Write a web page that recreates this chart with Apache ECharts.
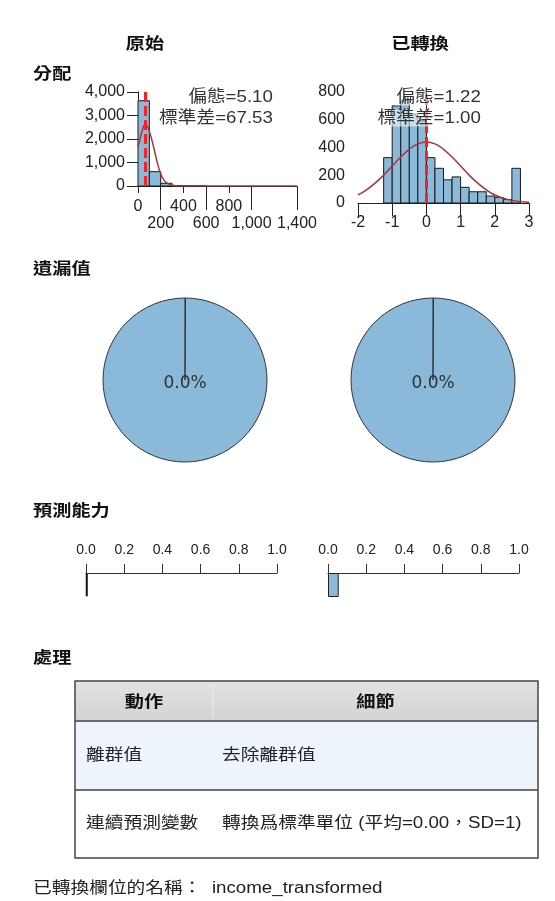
<!DOCTYPE html>
<html>
<head>
<meta charset="utf-8">
<script src="https://cdn.jsdelivr.net/npm/echarts@6/dist/echarts.min.js"></script>
<style>
html, body { margin: 0; padding: 0; background: #fff; }
#main { width: 555px; height: 901px; }
</style>
</head>
<body>
<div id="main"></div>
<script>
// 原始 (income) 分配
var origBinStart = [0, 100, 200, 300, 400, 500];
var origBinWidth = 100;
var origCounts = [3630, 610, 115, 15, 6, 3];
var origCurveX = [0, 20, 40, 60, 80, 100, 125, 150, 175, 200, 225, 250, 300, 350, 400, 1400];
var origCurveY = [1650, 2050, 2400, 2600, 2560, 2320, 1900, 1400, 900, 520, 280, 140, 30, 5, 0, 0];
var origMean = 60;
var origStats = ['偏態=5.10', '標準差=67.53'];

// 已轉換 分配
var transBinStart = [-1.25, -1, -0.75, -0.5, -0.25, 0, 0.25, 0.5, 0.75, 1, 1.25, 1.5, 1.75, 2, 2.25, 2.5];
var transBinWidth = 0.25;
var transCounts = [327, 700, 740, 640, 590, 327, 250, 167, 188, 113, 81, 81, 50, 40, 25, 250];
var transCurveX = [-2, -1.75, -1.5, -1.25, -1, -0.75, -0.5, -0.25, 0, 0.25, 0.5, 0.75, 1, 1.25, 1.5, 1.75, 2, 2.25, 2.5, 2.75, 3];
var transCurveY = [58, 95, 143, 201, 266, 331, 387, 426, 439, 426, 387, 331, 266, 201, 143, 95, 58, 35, 19, 10, 5];
var transMean = 0;
var transStats = ['偏態=1.22', '標準差=1.00'];

// 遺漏值 (%)
var missingPct = [0.0, 0.0];
// 預測能力
var predictPower = [0.008, 0.056];

// 處理 table
var tableHeader = ['動作', '細節'];
var tableRows = [
	['離群值', '去除離群值'],
	['連續預測變數', '轉換爲標準單位 (平均=0.00，SD=1)']
];
var fieldNameText = '已轉換欄位的名稱：  income_transformed';

var FONT = "'Liberation Sans', 'Noto Sans CJK TC', sans-serif";
var CJK = "'Noto Sans CJK TC', 'Liberation Sans', sans-serif";
var BAR_FILL = '#8bb9d9';
var TEXT = '#222';
var STRETCH = 1.17; // the source renders text a little wide

function toHist(starts, width, counts) {
	return starts.map(function(s, i) {
		return [s, s + width, counts[i]];
	});
}
function toPairs(xs, ys) {
	return xs.map(function(x, i) {
		return [x, ys[i]];
	});
}

function histItem(params, api) {
	var p0 = api.coord([api.value(0), api.value(2)]);
	var p1 = api.coord([api.value(1), 0]);
	return {
		type : 'rect',
		shape : {
			x : p0[0],
			y : p0[1],
			width : p1[0] - p0[0],
			height : p1[1] - p0[1]
		},
		style : {
			fill : BAR_FILL,
			stroke : '#1a1a1a',
			lineWidth : 1
		}
	};
}

var myChart = echarts.init(document.getElementById('main'));

var axisLine = {
	lineStyle : {
		color : '#222',
		width : 1
	}
};

function valueYAxis(gridIndex, max, interval) {
	return {
		type : 'value',
		gridIndex : gridIndex,
		min : 0,
		max : max,
		interval : interval,
		axisLine : {
			show : true,
			lineStyle : axisLine.lineStyle
		},
		axisTick : {
			show : true,
			length : 11,
			lineStyle : axisLine.lineStyle
		},
		axisLabel : {
			margin : 13,
			fontSize : 16,
			fontFamily : FONT,
			color : TEXT
		},
		splitLine : {
			show : false
		}
	};
}

function predictXAxis(gridIndex) {
	return {
		type : 'value',
		gridIndex : gridIndex,
		position : 'top',
		min : 0,
		max : 1,
		interval : 0.2,
		axisLine : {
			show : true,
			lineStyle : {
				color : '#333',
				width : 1
			}
		},
		axisTick : {
			show : true,
			length : 9,
			lineStyle : {
				color : '#333'
			}
		},
		axisLabel : {
			margin : 16,
			fontSize : 14,
			fontFamily : FONT,
			color : TEXT,
			showMinLabel : true,
			showMaxLabel : true,
			formatter : function(v) {
				return v.toFixed(1);
			}
		},
		splitLine : {
			show : false
		}
	};
}

function meanLine(xAxisIndex, yAxisIndex, xs, ys, mean) {
	return {
		type : 'line',
		xAxisIndex : xAxisIndex,
		yAxisIndex : yAxisIndex,
		data : toPairs(xs, ys),
		smooth : true,
		showSymbol : false,
		silent : true,
		z : 4,
		lineStyle : {
			color : '#a8353a',
			width : 1.5
		},
		markLine : {
			symbol : 'none',
			silent : true,
			label : {
				show : false
			},
			lineStyle : {
				color : '#ff1f1f',
				type : [10, 4],
				width : 3
			},
			data : [ {
				xAxis : mean
			} ]
		}
	};
}

function pieSeries(cx, pct) {
	return {
		type : 'pie',
		center : [cx, 380],
		radius : 82,
		startAngle : 90,
		clockwise : true,
		minAngle : 0.3,
		silent : true,
		animation : false,
		itemStyle : {
			color : BAR_FILL,
			borderColor : '#333',
			borderWidth : 1
		},
		label : {
			show : false
		},
		labelLine : {
			show : false
		},
		data : [ {
			name : '遺漏',
			value : pct,
			label : {
				show : true,
				position : 'center',
				formatter : '{a|' + pct.toFixed(1) + '%}',
				rich : {
					a : {
						fontFamily : "'DejaVu Sans', sans-serif",
						fontSize : 17,
						color : '#333',
						padding : [8, 0, 0, 0]
					}
				}
			}
		}, {
			name : '有效',
			value : 100 - pct
		} ]
	};
}

function titleText(text, x, y, align) {
	return {
		type : 'text',
		x : x,
		y : y,
		z : 10,
		scaleX : 1.2,
		style : {
			text : text,
			font : 'bold 16px ' + CJK,
			fill : '#111',
			align : align || 'left',
			verticalAlign : 'middle'
		}
	};
}

function statText(text, x, y) {
	return {
		type : 'text',
		x : x,
		y : y,
		z : 20,
		scaleX : 1.1,
		style : {
			text : text,
			font : '17px ' + FONT,
			fill : '#333',
			align : 'right',
			verticalAlign : 'middle',
			backgroundColor : 'rgba(255,255,255,0.55)',
			padding : [0, 1, 0, 1]
		}
	};
}

function plainText(text, x, y) {
	return {
		type : 'text',
		x : x,
		y : y,
		scaleX : STRETCH,
		style : {
			text : text,
			font : '16px ' + FONT,
			fill : '#222',
			verticalAlign : 'middle'
		}
	};
}

// 表格
var tblLeft = 75, tblRight = 538, colX = 213;
var rowY = [681, 721, 790, 858];
var tableGraphics = [ {
	type : 'rect',
	shape : {
		x : tblLeft,
		y : rowY[0],
		width : tblRight - tblLeft,
		height : rowY[1] - rowY[0]
	},
	style : {
		fill : new echarts.graphic.LinearGradient(0, 0, 0, 1, [ {
			offset : 0,
			color : '#e2e2e2'
		}, {
			offset : 1,
			color : '#d3d3d3'
		} ])
	}
}, {
	type : 'rect',
	shape : {
		x : tblLeft,
		y : rowY[1],
		width : tblRight - tblLeft,
		height : rowY[2] - rowY[1]
	},
	style : {
		fill : '#eef4fc'
	}
}, {
	type : 'line',
	shape : {
		x1 : colX,
		y1 : rowY[0],
		x2 : colX,
		y2 : rowY[1]
	},
	style : {
		stroke : '#e8e8e8',
		lineWidth : 1
	}
}, {
	type : 'line',
	shape : {
		x1 : tblLeft,
		y1 : rowY[1],
		x2 : tblRight,
		y2 : rowY[1]
	},
	style : {
		stroke : '#444',
		lineWidth : 1.5
	}
}, {
	type : 'line',
	shape : {
		x1 : tblLeft,
		y1 : rowY[2],
		x2 : tblRight,
		y2 : rowY[2]
	},
	style : {
		stroke : '#444',
		lineWidth : 1.5
	}
}, {
	type : 'rect',
	shape : {
		x : tblLeft,
		y : rowY[0],
		width : tblRight - tblLeft,
		height : rowY[3] - rowY[0]
	},
	style : {
		fill : 'none',
		stroke : '#444',
		lineWidth : 1.5
	}
}, titleText(tableHeader[0], (tblLeft + colX) / 2, (rowY[0] + rowY[1]) / 2, 'center'),
   titleText(tableHeader[1], (colX + tblRight) / 2, (rowY[0] + rowY[1]) / 2, 'center') ];

tableRows.forEach(function(row, i) {
	var cy = (rowY[i + 1] + rowY[i + 2]) / 2;
	tableGraphics.push(plainText(row[0], 86, cy));
	tableGraphics.push(plainText(row[1], 222, cy));
});

var option = {
	backgroundColor : '#fff',
	animation : false,
	grid : [ {
		left : 138,
		top : 92,
		width : 159,
		height : 94
	}, {
		left : 358,
		top : 92,
		width : 171,
		height : 111
	}, {
		left : 86,
		top : 573,
		width : 191,
		height : 24
	}, {
		left : 328,
		top : 573,
		width : 191,
		height : 24
	} ],
	xAxis : [ {
		type : 'value',
		gridIndex : 0,
		position : 'bottom',
		min : 0,
		max : 1400,
		interval : 200,
		axisLine : axisLine,
		axisTick : {
			length : 7,
			lineStyle : axisLine.lineStyle
		},
		axisLabel : {
			margin : 12,
			fontSize : 16,
			lineHeight : 17,
			fontFamily : FONT,
			color : TEXT,
			interval : 0,
			showMinLabel : true,
			showMaxLabel : true,
			formatter : function(v) {
				var s = echarts.format.addCommas(v);
				return (v / 200) % 2 === 1 ? '\n' + s : s;
			}
		},
		splitLine : {
			show : false
		}
	}, {
		type : 'value',
		gridIndex : 1,
		min : -2,
		max : 3,
		interval : 1,
		axisLine : axisLine,
		axisTick : {
			length : 13,
			lineStyle : axisLine.lineStyle
		},
		axisLabel : {
			margin : 12,
			fontSize : 16,
			fontFamily : FONT,
			color : TEXT,
			showMinLabel : true,
			showMaxLabel : true
		},
		splitLine : {
			show : false
		}
	}, predictXAxis(2), predictXAxis(3), {
		// long ticks reaching the second label row
		type : 'value',
		gridIndex : 0,
		position : 'bottom',
		offset : 0,
		min : 0,
		max : 1400,
		axisLine : {
			show : false
		},
		axisTick : {
			show : true,
			length : 24,
			customValues : [200, 600, 1000, 1400],
			lineStyle : axisLine.lineStyle
		},
		axisLabel : {
			show : false
		},
		splitLine : {
			show : false
		}
	} ],
	yAxis : [ valueYAxis(0, 4000, 1000), valueYAxis(1, 800, 200), {
		type : 'category',
		gridIndex : 2,
		data : ['預測能力'],
		show : false
	}, {
		type : 'category',
		gridIndex : 3,
		data : ['預測能力'],
		show : false
	} ],
	series : [ {
		type : 'custom',
		xAxisIndex : 0,
		yAxisIndex : 0,
		renderItem : histItem,
		encode : {
			x : [0, 1],
			y : 2
		},
		data : toHist(origBinStart, origBinWidth, origCounts),
		z : 2
	}, {
		type : 'custom',
		xAxisIndex : 1,
		yAxisIndex : 1,
		renderItem : histItem,
		encode : {
			x : [0, 1],
			y : 2
		},
		data : toHist(transBinStart, transBinWidth, transCounts),
		z : 2
	},
	meanLine(0, 0, origCurveX, origCurveY, origMean),
	meanLine(1, 1, transCurveX, transCurveY, transMean),
	pieSeries(185, missingPct[0]),
	pieSeries(433, missingPct[1]),
	{
		type : 'bar',
		xAxisIndex : 2,
		yAxisIndex : 2,
		barWidth : 24,
		data : [predictPower[0]],
		itemStyle : {
			color : '#111',
			borderColor : '#111',
			borderWidth : 2
		}
	}, {
		type : 'bar',
		xAxisIndex : 3,
		yAxisIndex : 3,
		barWidth : 24,
		data : [predictPower[1]],
		itemStyle : {
			color : BAR_FILL,
			borderColor : '#222',
			borderWidth : 1
		}
	} ],
	graphic : [
		titleText('原始', 145, 43, 'center'),
		titleText('已轉換', 420, 43, 'center'),
		titleText('分配', 33, 73),
		titleText('遺漏值', 33, 268),
		titleText('預測能力', 33, 510),
		titleText('處理', 33, 657),
		statText(origStats[0], 274, 97),
		statText(origStats[1], 274, 118),
		statText(transStats[0], 482, 97),
		statText(transStats[1], 482, 118),
		plainText(fieldNameText, 33, 889)
	].concat(tableGraphics)
};

myChart.setOption(option);
</script>
</body>
</html>
